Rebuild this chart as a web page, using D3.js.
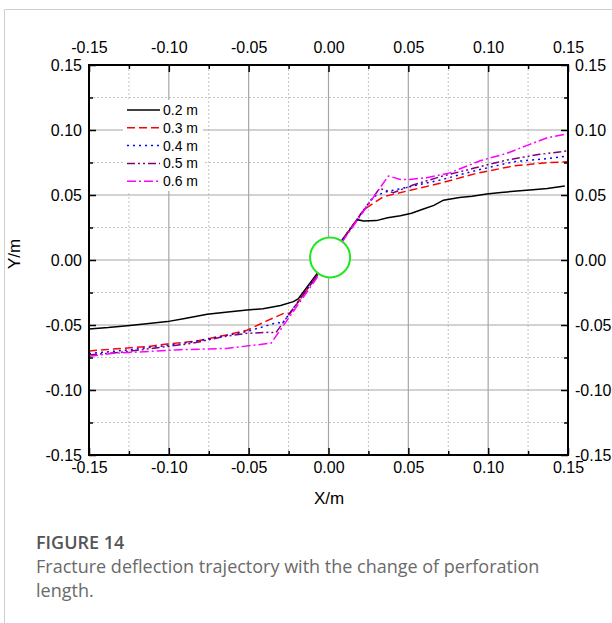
<meta charset="utf-8">
<style>body { margin: 0; } svg { display: block; }</style>
<script src="https://d3js.org/d3.v7.min.js"></script>
<svg id="chart" width="612" height="623"></svg>
<script>
// tick values and labels (same on all four sides)
var tickValues = [-0.15, -0.10, -0.05, 0.00, 0.05, 0.10, 0.15];
var tickLabels = ["-0.15", "-0.10", "-0.05", "0.00", "0.05", "0.10", "0.15"];
var minorValues = [-0.125, -0.075, -0.025, 0.025, 0.075, 0.125];

var seriesNames = ["0.2 m", "0.3 m", "0.4 m", "0.5 m", "0.6 m"];

// trajectories [x, y] in metres
var line02 = [[-0.150,-0.053],[-0.138,-0.052],[-0.126,-0.0505],[-0.114,-0.049],[-0.101,-0.0474],[-0.090,-0.045],
  [-0.076,-0.0418],[-0.063,-0.040],[-0.051,-0.0385],[-0.041,-0.0375],[-0.030,-0.035],[-0.022,-0.032],[-0.019,-0.030],
  [0.018,0.031],[0.022,0.030],[0.030,0.0303],[0.037,0.0325],[0.045,0.034],[0.052,0.036],[0.059,0.039],[0.066,0.042],
  [0.072,0.046],[0.082,0.048],[0.090,0.049],[0.099,0.0508],[0.108,0.052],[0.118,0.053],[0.128,0.054],[0.137,0.055],[0.148,0.057]];
var line03 = [[-0.150,-0.070],[-0.130,-0.068],[-0.114,-0.0667],[-0.101,-0.0646],[-0.0825,-0.0623],[-0.064,-0.0577],
  [-0.051,-0.054],[-0.039,-0.047],[-0.028,-0.041],[-0.024,-0.041],
  [0.022,0.0385],[0.0343,0.0487],[0.049,0.053],[0.0698,0.059],[0.0928,0.0667],[0.1157,0.0723],[0.1366,0.0749],[0.150,0.0756]];
var line04 = [[-0.150,-0.072],[-0.124,-0.069],[-0.093,-0.0646],[-0.072,-0.060],[-0.051,-0.055],[-0.040,-0.051],
  [-0.032,-0.048],[-0.029,-0.049],
  [0.028,0.0487],[0.0364,0.0526],[0.051,0.0564],[0.0698,0.0615],[0.0928,0.069],[0.1158,0.0756],[0.137,0.078],[0.150,0.080]];
var line05 = [[-0.150,-0.073],[-0.130,-0.071],[-0.114,-0.0685],[-0.085,-0.064],[-0.066,-0.059],[-0.051,-0.0564],
  [-0.037,-0.0556],[-0.033,-0.056],
  [0.032,0.0551],[0.0406,0.0518],[0.053,0.0577],[0.0698,0.064],[0.0907,0.0705],[0.1116,0.0769],[0.1324,0.0813],[0.150,0.084]];
var line06 = [[-0.150,-0.074],[-0.135,-0.0718],[-0.093,-0.069],[-0.064,-0.068],[-0.036,-0.064],
  [0.0375,0.0646],[0.045,0.062],[0.051,0.062],[0.0615,0.0633],[0.076,0.067],[0.095,0.0764],[0.1116,0.082],
  [0.124,0.088],[0.137,0.094],[0.145,0.096],[0.150,0.097]];

// perforation hole
var hole = [0.001, 0.002];

var svg = d3.select("#chart");
var x = d3.scaleLinear().domain([-0.15, 0.15]).range([89, 568]);
var y = d3.scaleLinear().domain([-0.15, 0.15]).range([455, 65]);

svg.append("rect").attr("width", 612).attr("height", 623).attr("fill", "#fff");
// card border
svg.append("path").attr("d", "M4.5,623V9.5H612").attr("fill", "none").attr("stroke", "#cfcfcf");

// grid
var grid = svg.append("g");
minorValues.forEach(function (v) {
  grid.append("line").attr("x1", x(v)).attr("x2", x(v)).attr("y1", y(0.15)).attr("y2", y(-0.15))
    .attr("stroke", "#c4c4c4").attr("stroke-dasharray", "2,2");
  grid.append("line").attr("y1", y(v)).attr("y2", y(v)).attr("x1", x(-0.15)).attr("x2", x(0.15))
    .attr("stroke", "#c4c4c4").attr("stroke-dasharray", "2,2");
});
tickValues.slice(1, -1).forEach(function (v) {
  grid.append("line").attr("x1", x(v)).attr("x2", x(v)).attr("y1", y(0.15)).attr("y2", y(-0.15))
    .attr("stroke", "#a6a6a6").attr("stroke-width", 1.2);
  grid.append("line").attr("y1", y(v)).attr("y2", y(v)).attr("x1", x(-0.15)).attr("x2", x(0.15))
    .attr("stroke", "#a6a6a6").attr("stroke-width", 1.2);
});

// lines
var colors = ["#000000", "#ff0000", "#0000ff", "#800080", "#ff00ff"];
var dashes = [null, "8,4", "2,4", "8,3,2,3,2,3", "9,3,2,3"];
var allLines = [line02, line03, line04, line05, line06];
var lineGen = d3.line().x(function (d) { return x(d[0]); }).y(function (d) { return y(d[1]); });

svg.append("g").selectAll("path").data(allLines).enter().append("path")
  .attr("d", lineGen)
  .attr("fill", "none")
  .attr("stroke", function (d, i) { return colors[i]; })
  .attr("stroke-width", 1.5)
  .attr("stroke-dasharray", function (d, i) { return dashes[i]; });

svg.append("circle").attr("cx", x(hole[0])).attr("cy", y(hole[1])).attr("r", 20)
  .attr("fill", "#fff").attr("stroke", "#22e622").attr("stroke-width", 2);

// axes, ticks pointing inward
function styleAxis(g) {
  g.select(".domain").remove();
  g.selectAll("text").style("font-family", "'Liberation Sans', Arial, sans-serif").style("font-size", "16px").attr("fill", "#000");
  g.selectAll("line").attr("stroke", "#000").attr("stroke-width", 1.5);
}
var fmt = function (d, i) { return tickLabels[i]; };
svg.append("g").attr("transform", "translate(0,455)")
  .call(d3.axisBottom(x).tickValues(tickValues).tickFormat(fmt).tickSize(-7).tickPadding(7)).call(styleAxis);
svg.append("g").attr("transform", "translate(0,65)")
  .call(d3.axisTop(x).tickValues(tickValues).tickFormat(fmt).tickSize(-7).tickPadding(12)).call(styleAxis);
svg.append("g").attr("transform", "translate(89,0)")
  .call(d3.axisLeft(y).tickValues(tickValues).tickFormat(fmt).tickSize(-7).tickPadding(7)).call(styleAxis);
svg.append("g").attr("transform", "translate(568,0)")
  .call(d3.axisRight(y).tickValues(tickValues).tickFormat(fmt).tickSize(-7).tickPadding(7)).call(styleAxis);

var noLab = function () { return ""; };
[[d3.axisBottom(x), "translate(0,455)"], [d3.axisTop(x), "translate(0,65)"]].forEach(function (a) {
  svg.append("g").attr("transform", a[1]).call(a[0].tickValues(minorValues).tickFormat(noLab).tickSize(-4)).call(styleAxis);
});
[[d3.axisLeft(y), "translate(89,0)"], [d3.axisRight(y), "translate(568,0)"]].forEach(function (a) {
  svg.append("g").attr("transform", a[1]).call(a[0].tickValues(minorValues).tickFormat(noLab).tickSize(-4)).call(styleAxis);
});

svg.append("rect").attr("x", 89).attr("y", 65).attr("width", 479).attr("height", 390)
  .attr("fill", "none").attr("stroke", "#000").attr("stroke-width", 2);

// legend
var legend = svg.append("g");
legend.append("rect").attr("x", 123).attr("y", 100).attr("width", 80).attr("height", 91).attr("fill", "#fff");
seriesNames.forEach(function (name, i) {
  var ly = 110 + i * 17.8;
  legend.append("line").attr("x1", 127).attr("x2", 160).attr("y1", ly).attr("y2", ly)
    .attr("stroke", colors[i]).attr("stroke-width", 1.5).attr("stroke-dasharray", dashes[i]);
  legend.append("text").attr("x", 163).attr("y", ly).attr("dy", "0.35em").text(name)
    .style("font-family", "'Liberation Sans', Arial, sans-serif").style("font-size", "14px");
});

// axis titles
svg.append("text").attr("x", 329).attr("y", 504).attr("text-anchor", "middle").text("X/m")
  .style("font-family", "'Liberation Sans', Arial, sans-serif").style("font-size", "17px");
svg.append("text").attr("transform", "translate(20,254) rotate(-90)").attr("text-anchor", "middle").text("Y/m")
  .style("font-family", "'Liberation Sans', Arial, sans-serif").style("font-size", "17px");

// caption
svg.append("text").attr("x", 36).attr("y", 549).text("FIGURE 14")
  .style("font-family", "'Open Sans', sans-serif").style("font-size", "18px").style("font-weight", 600).attr("fill", "#555");
svg.append("text").attr("x", 36).attr("y", 573).text("Fracture deflection trajectory with the change of perforation")
  .style("font-family", "'Open Sans', sans-serif").style("font-size", "18px").attr("fill", "#6a6a6a");
svg.append("text").attr("x", 36).attr("y", 597).text("length.")
  .style("font-family", "'Open Sans', sans-serif").style("font-size", "18px").attr("fill", "#6a6a6a");
</script>
